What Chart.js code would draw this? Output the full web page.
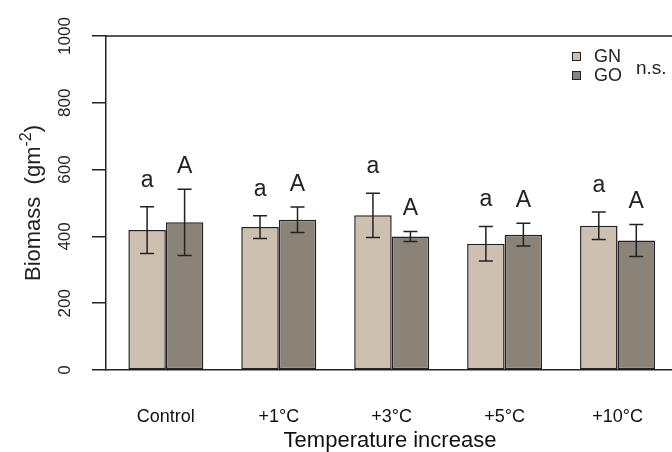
<!DOCTYPE html>
<html>
<head>
<meta charset="utf-8">
<script src="https://cdn.jsdelivr.net/npm/chart.js@4/dist/chart.umd.min.js"></script>
<style>
  html, body { margin: 0; padding: 0; background: #fff; overflow: hidden; }
  #wrap { width: 680px; height: 452px; }
</style>
</head>
<body>
<div id="wrap"><canvas id="myChart"></canvas></div>
<script>
const categories = ["Control", "+1°C", "+3°C", "+5°C", "+10°C"];
const gnMeans = [419, 428, 463, 378, 432];
const goMeans = [442, 450, 400, 405, 388];
const gnErr = [70, 34, 66, 52, 41];
const goErr = [99, 38, 15, 34, 48];
const gnLetters = ["a", "a", "a", "a", "a"];
const goLetters = ["A", "A", "A", "A", "A"];
const yTicks = [0, 200, 400, 600, 800, 1000];

const FONT = "'Liberation Sans', Arial, sans-serif";
const INK = "#222";

// draws what R drew around the bars: box, error bars, letters, legend, rotated labels
const extras = {
  id: "extras",
  afterDatasetsDraw(chart) {
    const c = chart.ctx;
    const y = chart.scales.y;
    const area = chart.chartArea;

    c.save();
    c.strokeStyle = INK;
    c.lineWidth = 1.5;
    c.beginPath();
    c.moveTo(area.left, area.top);
    c.lineTo(area.right, area.top);
    c.lineTo(area.right, area.bottom);
    c.stroke();

    chart.data.datasets.forEach((ds, di) => {
      const meta = chart.getDatasetMeta(di);
      meta.data.forEach((bar, i) => {
        const mean = ds.data[i].y;
        const hi = y.getPixelForValue(mean + ds.errors[i]);
        const lo = y.getPixelForValue(mean - ds.errors[i]);
        c.beginPath();
        c.moveTo(bar.x, hi);
        c.lineTo(bar.x, lo);
        c.moveTo(bar.x - 7, hi);
        c.lineTo(bar.x + 7, hi);
        c.moveTo(bar.x - 7, lo);
        c.lineTo(bar.x + 7, lo);
        c.stroke();

        c.fillStyle = INK;
        c.font = "23px " + FONT;
        c.textAlign = "center";
        c.textBaseline = "alphabetic";
        c.fillText(ds.letters[i], bar.x, hi - ds.letterGap);
      });
    });
    c.restore();
  },
  afterDraw(chart) {
    const c = chart.ctx;
    const y = chart.scales.y;
    const area = chart.chartArea;
    c.save();
    c.fillStyle = INK;

    // y tick labels, turned like R's las=0
    c.font = "17px " + FONT;
    c.textAlign = "center";
    c.textBaseline = "middle";
    y.ticks.forEach((t) => {
      const py = y.getPixelForValue(t.value);
      c.save();
      c.translate(65, py);
      c.rotate(-Math.PI / 2);
      c.fillText(String(t.value), 0, 0);
      c.restore();
    });

    // y title with superscript
    const main = "Biomass  (gm";
    const sup = "-2";
    const tail = ")";
    c.save();
    c.translate(32, (area.top + area.bottom) / 2);
    c.rotate(-Math.PI / 2);
    c.textAlign = "left";
    c.textBaseline = "alphabetic";
    c.font = "22px " + FONT;
    const w1 = c.measureText(main).width;
    const w3 = c.measureText(tail).width;
    c.font = "16px " + FONT;
    const w2 = c.measureText(sup).width;
    let x0 = -(w1 + w2 + w3) / 2;
    c.font = "22px " + FONT;
    c.fillText(main, x0, 8);
    c.font = "16px " + FONT;
    c.fillText(sup, x0 + w1, -1);
    c.font = "22px " + FONT;
    c.fillText(tail, x0 + w1 + w2, 8);
    c.restore();

    // legend
    chart.data.datasets.forEach((ds, i) => {
      const cy = 56 + i * 19;
      c.fillStyle = ds.backgroundColor;
      c.fillRect(572, cy - 4, 8, 8);
      c.strokeStyle = INK;
      c.lineWidth = 1;
      c.strokeRect(572.5, cy - 3.5, 8, 8);
      c.fillStyle = INK;
      c.font = "18px " + FONT;
      c.textAlign = "left";
      c.textBaseline = "middle";
      c.fillText(ds.label, 594, cy + 1);
    });
    c.font = "19px " + FONT;
    c.textBaseline = "alphabetic";
    c.fillText("n.s.", 636, 74);
    c.restore();
  }
};

const ctx = document.getElementById("myChart");

new Chart(ctx, {
  type: "bar",
  data: {
    datasets: [
      {
        label: "GN",
        data: gnMeans.map((v, i) => ({ x: i, y: v })),
        errors: gnErr,
        letters: gnLetters,
        letterGap: 20,
        backgroundColor: "#CDC0B0",
        borderColor: INK,
        borderWidth: 1.5,
        borderSkipped: false
      },
      {
        label: "GO",
        data: goMeans.map((v, i) => ({ x: i, y: v })),
        errors: goErr,
        letters: goLetters,
        letterGap: 16,
        backgroundColor: "#8B8378",
        borderColor: INK,
        borderWidth: 1.5,
        borderSkipped: false
      }
    ]
  },
  options: {
    responsive: true,
    maintainAspectRatio: false,
    animation: false,
    devicePixelRatio: 1,
    categoryPercentage: 0.664,
    barPercentage: 1,
    layout: { padding: { left: 0, top: 36, right: 6, bottom: 0 } },
    plugins: { legend: { display: false }, tooltip: { enabled: false } },
    scales: {
      x: {
        type: "linear",
        min: -0.53,
        max: 4.5,
        offset: false,
        afterBuildTicks: (s) => { s.ticks = categories.map((_, i) => ({ value: i })); },
        afterFit: (s) => { s.height = 82; },
        grid: { display: false },
        border: { display: true, color: INK, width: 1.5 },
        ticks: {
          padding: 28,
          color: "#111",
          font: { family: FONT, size: 18 },
          callback: (v) => categories[v]
        },
        title: {
          display: true,
          text: "Temperature increase",
          color: "#111",
          font: { family: FONT, size: 22, lineHeight: 1 },
          padding: 0
        }
      },
      y: {
        min: 0,
        max: 1000,
        afterBuildTicks: (s) => { s.ticks = yTicks.map((v) => ({ value: v })); },
        afterFit: (s) => { s.width = 106; },
        grid: { drawOnChartArea: false, tickLength: 14, color: INK, lineWidth: 1.5 },
        border: { display: true, color: INK, width: 1.5 },
        ticks: { display: false }
      }
    }
  },
  plugins: [extras]
});
</script>
</body>
</html>
